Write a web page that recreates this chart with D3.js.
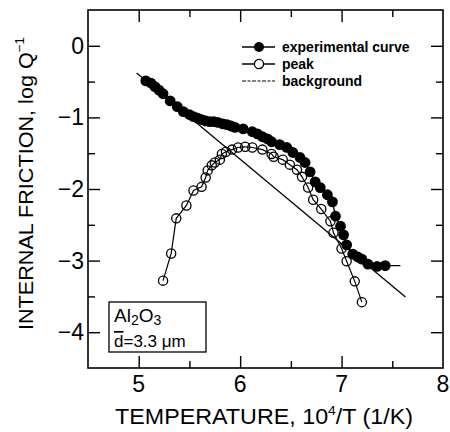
<!DOCTYPE html>
<html><head><meta charset="utf-8">
<script src="https://cdn.jsdelivr.net/npm/d3@7"></script>
<style>
body{margin:0;background:#fff;}
svg{display:block;}
text{font-family:"Liberation Sans",Arial,sans-serif;fill:#000;}
.ov{text-decoration:overline;}
</style></head>
<body><svg id="c" width="450" height="432"></svg>
<script>
// ---- data ----
const expX = [5.07,5.12,5.16,5.20,5.24,5.31,5.38,5.44,5.50,5.54,5.58,5.62,5.66,5.70,5.74,5.78,5.83,5.87,5.91,5.95,6.03,6.12,6.17,6.22,6.27,6.31,6.39,6.46,6.52,6.59,6.64,6.69,6.74,6.79,6.86,6.91,6.94,6.99,7.02,7.05,7.11,7.16,7.20,7.26,7.35,7.43];
const expY = [-0.49,-0.52,-0.57,-0.62,-0.67,-0.77,-0.85,-0.92,-0.96,-0.99,-1.01,-1.03,-1.05,-1.06,-1.06,-1.07,-1.09,-1.10,-1.12,-1.14,-1.16,-1.20,-1.23,-1.27,-1.30,-1.34,-1.38,-1.42,-1.49,-1.56,-1.63,-1.76,-1.90,-1.98,-2.08,-2.18,-2.38,-2.52,-2.64,-2.78,-2.91,-2.95,-2.98,-3.05,-3.08,-3.07];
const expTailX = 7.58;
const peakX = [5.24,5.32,5.37,5.47,5.54,5.62,5.66,5.68,5.72,5.75,5.80,5.82,5.86,5.92,5.98,6.05,6.12,6.22,6.31,6.33,6.42,6.49,6.56,6.61,6.67,6.72,6.80,6.89,6.92,7.00,7.05,7.13,7.20];
const peakY = [-3.28,-2.90,-2.41,-2.23,-2.02,-1.97,-1.84,-1.74,-1.67,-1.63,-1.59,-1.51,-1.48,-1.45,-1.42,-1.41,-1.42,-1.45,-1.51,-1.55,-1.59,-1.66,-1.73,-1.83,-1.98,-2.15,-2.28,-2.45,-2.61,-2.83,-3.01,-3.29,-3.58];
const bgX = [4.98, 7.63];
const bgY = [-0.38, -3.51];
const xTicks = [5, 6, 7, 8];
const yTicks = [0, -1, -2, -3, -4];
const legendLabels = ["experimental curve", "peak", "background"];
const xTitle = "TEMPERATURE, 10";
const yTitle = "INTERNAL FRICTION, log Q";

// ---- layout ----
const svg = d3.select("#c");
const L = 88, R = 443, T = 10, B = 368;
const x = d3.scaleLinear().domain([4.5, 8]).range([L, R]);
const y = d3.scaleLinear().domain([-4.5, 0.5]).range([B, T]);

svg.append("rect").attr("x", L).attr("y", T).attr("width", R - L).attr("height", B - T)
  .attr("fill", "none").attr("stroke", "#000").attr("stroke-width", 1.6);

const xMinor = d3.range(4.5, 8.01, 0.5).filter(v => !xTicks.includes(v) && v > 4.5 && v < 8);
const yMinor = d3.range(-4.5, 0.51, 0.5).filter(v => !yTicks.includes(v) && v > -4.5 && v < 0.5);
function addAxis(axisGen, tx, ty) {
  const g = svg.append("g").attr("transform", `translate(${tx},${ty})`).call(axisGen);
  g.select(".domain").remove();
  g.selectAll("line").attr("stroke", "#000").attr("stroke-width", 1.4);
  return g;
}
addAxis(d3.axisBottom(x).tickValues(xTicks.filter(v => v < 8)).tickSize(-12).tickFormat(""), 0, B);
addAxis(d3.axisBottom(x).tickValues(xMinor).tickSize(-7).tickFormat(""), 0, B);
addAxis(d3.axisTop(x).tickValues(xTicks.filter(v => v < 8)).tickSize(-12).tickFormat(""), 0, T);
addAxis(d3.axisTop(x).tickValues(xMinor).tickSize(-7).tickFormat(""), 0, T);
addAxis(d3.axisLeft(y).tickValues(yTicks).tickSize(-12).tickFormat(""), L, 0);
addAxis(d3.axisLeft(y).tickValues(yMinor).tickSize(-7).tickFormat(""), L, 0);
addAxis(d3.axisRight(y).tickValues(yTicks).tickSize(-12).tickFormat(""), R, 0);
addAxis(d3.axisRight(y).tickValues(yMinor).tickSize(-7).tickFormat(""), R, 0);

svg.selectAll(".xl").data(xTicks).join("text").attr("class", "xl")
  .attr("x", d => x(d)).attr("y", 392).attr("text-anchor", "middle")
  .attr("font-size", 23).text(d => d3.format("d")(d));
svg.selectAll(".yl").data(yTicks).join("text").attr("class", "yl")
  .attr("x", 84).attr("y", d => y(d) + 8).attr("text-anchor", "end")
  .attr("font-size", 23).text(d => d3.format("d")(d));

const xt = svg.append("text").attr("x", 115).attr("y", 424).attr("font-size", 22)
  .attr("textLength", 298).attr("lengthAdjust", "spacingAndGlyphs");
xt.append("tspan").text(xTitle);
xt.append("tspan").attr("font-size", 13).attr("dy", -9).text("4");
xt.append("tspan").attr("dy", 9).text("/T  (1/K)");

const yt = svg.append("text").attr("transform", "translate(33,330) rotate(-90)")
  .attr("font-size", 21).attr("textLength", 293).attr("lengthAdjust", "spacingAndGlyphs");
yt.append("tspan").text(yTitle);
yt.append("tspan").attr("font-size", 13).attr("dy", -9).text("−1");

const bg = bgX.map((v, i) => [v, bgY[i]]);
svg.append("path").datum(bg).attr("d", d3.line().x(d => x(d[0])).y(d => y(d[1])))
  .attr("fill", "none").attr("stroke", "#000").attr("stroke-width", 1.3);

const pk = peakX.map((v, i) => [v, peakY[i]]);
svg.append("path").datum(pk).attr("d", d3.line().x(d => x(d[0])).y(d => y(d[1])))
  .attr("fill", "none").attr("stroke", "#000").attr("stroke-width", 1.2);
svg.selectAll(".pk").data(pk).join("circle").attr("class", "pk")
  .attr("cx", d => x(d[0])).attr("cy", d => y(d[1])).attr("r", 4.6)
  .attr("fill", "none").attr("stroke", "#000").attr("stroke-width", 1.3);

const ex = expX.map((v, i) => [v, expY[i]]);
const exLine = ex.concat([[expTailX, expY[expY.length - 1]]]);
svg.append("path").datum(exLine).attr("d", d3.line().x(d => x(d[0])).y(d => y(d[1])))
  .attr("fill", "none").attr("stroke", "#000").attr("stroke-width", 1.3);
svg.selectAll(".ex").data(ex).join("circle").attr("class", "ex")
  .attr("cx", d => x(d[0])).attr("cy", d => y(d[1])).attr("r", 5.4).attr("fill", "#000");

const lg = svg.append("g").attr("transform", "translate(242,47)");
legendLabels.forEach((lab, i) => {
  const row = lg.append("g").attr("transform", `translate(0,${i * 17})`);
  const line = row.append("line").attr("x1", 0).attr("x2", 33).attr("y1", 0).attr("y2", 0)
    .attr("stroke", "#000").attr("stroke-width", 1.5);
  if (i === 2) line.attr("stroke-dasharray", "4,1.5,3,1.5").attr("stroke-width", 1.2);
  if (i === 0) row.append("circle").attr("cx", 17).attr("cy", 0).attr("r", 5).attr("fill", "#000");
  if (i === 1) row.append("circle").attr("cx", 17).attr("cy", 0).attr("r", 4.6).attr("fill", "#fff").attr("stroke", "#000").attr("stroke-width", 1.3);
  row.append("text").attr("x", 40).attr("y", 5).attr("font-size", 14).attr("font-weight", "bold").text(lab);
});

const bx = svg.append("g");
bx.append("rect").attr("x", 109).attr("y", 302).attr("width", 97).attr("height", 50)
  .attr("fill", "#fff").attr("stroke", "#000").attr("stroke-width", 1.3);
const t1 = bx.append("text").attr("x", 114).attr("y", 322).attr("font-size", 19);
t1.append("tspan").text("Al");
t1.append("tspan").attr("font-size", 14).attr("dy", 3).text("2");
t1.append("tspan").attr("dy", -3).text("O");
t1.append("tspan").attr("font-size", 14).attr("dy", 3).text("3");
const t2 = bx.append("text").attr("x", 114).attr("y", 347).attr("font-size", 17);
t2.append("tspan").attr("class", "ov").text("d");
t2.append("tspan").text("=3.3 \u03bcm");
</script></body></html>
